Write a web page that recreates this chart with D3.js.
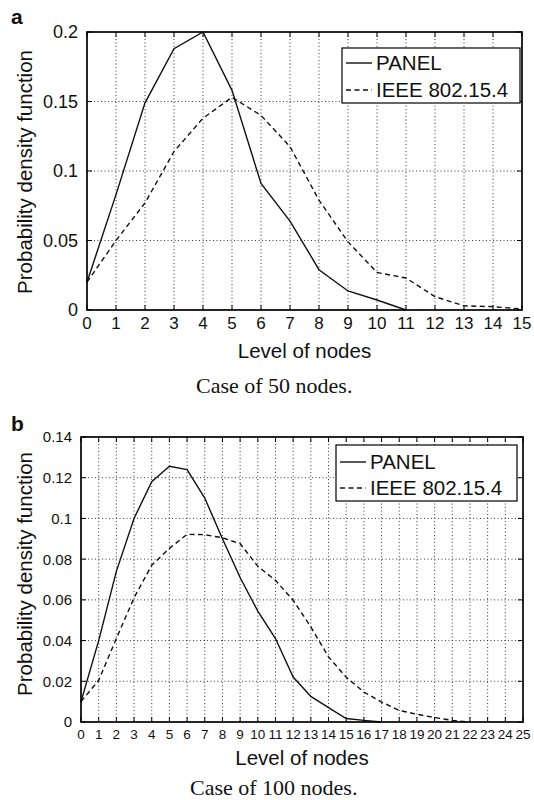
<!DOCTYPE html>
<html>
<head>
<meta charset="utf-8">
<script src="https://cdn.jsdelivr.net/npm/d3@7"></script>
<style>
  body { margin: 0; background: #fff; }
  svg { display: block; }
  text { fill: #111; }
</style>
</head>
<body>
<div id="chart-area"></div>
<script>
// panel a: 50 nodes
const levelsA = d3.range(0, 16);
const panelA = [0.02, 0.083, 0.149, 0.188, 0.2, 0.158, 0.091, 0.064, 0.029, 0.0137, 0.0072, 0];
const ieeeA = [0.02, 0.05, 0.077, 0.114, 0.138, 0.153, 0.140, 0.1175, 0.079, 0.049, 0.027, 0.023, 0.0096, 0.003, 0.0024, 0.0007];
const yTicksA = [0, 0.05, 0.1, 0.15, 0.2];

// panel b: 100 nodes
const levelsB = d3.range(0, 26);
const panelB = [0.01, 0.04, 0.074, 0.1, 0.118, 0.1256, 0.124, 0.11, 0.09, 0.071, 0.0545, 0.041, 0.0221, 0.0126, 0.0071, 0.0017, 0.0008, 0];
const ieeeB = [0.01, 0.0205, 0.041, 0.061, 0.077, 0.0853, 0.0922, 0.092, 0.0905, 0.0876, 0.0765, 0.0696, 0.0598, 0.0467, 0.032, 0.022, 0.0147, 0.0098, 0.0057, 0.0038, 0.0022, 0.0008, 0];
const yTicksB = [0, 0.02, 0.04, 0.06, 0.08, 0.1, 0.12, 0.14];

const seriesNames = ["PANEL", "IEEE 802.15.4"];

const svg = d3.select("#chart-area")
  .append("svg")
  .attr("width", 534)
  .attr("height", 800);

function drawPanel(o) {
  const x = d3.scaleLinear().domain([0, o.xMax]).range([o.l, o.r]);
  const y = d3.scaleLinear().domain([0, o.yMax]).range([o.b, o.t]);
  const g = svg.append("g");

  // dotted grid
  g.selectAll(".gx").data(o.levels.slice(1, -1)).enter().append("line")
    .attr("x1", d => x(d)).attr("x2", d => x(d))
    .attr("y1", o.t).attr("y2", o.b)
    .attr("stroke", "#222").attr("stroke-width", 0.9)
    .attr("stroke-dasharray", "1,2.5");
  g.selectAll(".gy").data(o.yTicks.slice(1, -1)).enter().append("line")
    .attr("x1", o.l).attr("x2", o.r)
    .attr("y1", d => y(d)).attr("y2", d => y(d))
    .attr("stroke", "#222").attr("stroke-width", 0.9)
    .attr("stroke-dasharray", "1,2.5");

  // inner ticks on all four sides
  const tk = 5;
  o.levels.forEach(d => {
    g.append("line").attr("x1", x(d)).attr("x2", x(d)).attr("y1", o.b).attr("y2", o.b - tk).attr("stroke", "#000");
    g.append("line").attr("x1", x(d)).attr("x2", x(d)).attr("y1", o.t).attr("y2", o.t + tk).attr("stroke", "#000");
  });
  o.yTicks.forEach(d => {
    g.append("line").attr("x1", o.l).attr("x2", o.l + tk).attr("y1", y(d)).attr("y2", y(d)).attr("stroke", "#000");
    g.append("line").attr("x1", o.r).attr("x2", o.r - tk).attr("y1", y(d)).attr("y2", y(d)).attr("stroke", "#000");
  });

  // tick labels
  g.selectAll(".xl").data(o.levels).enter().append("text")
    .attr("x", d => x(d)).attr("y", o.b + o.xLabOff)
    .attr("text-anchor", "middle")
    .attr("font-family", "Liberation Sans, Arial, sans-serif")
    .attr("font-size", o.xFont + "px")
    .text(d => d);
  g.selectAll(".yl").data(o.yTicks).enter().append("text")
    .attr("x", o.l - 9).attr("y", d => y(d))
    .attr("dy", "0.36em")
    .attr("text-anchor", "end")
    .attr("font-family", "Liberation Sans, Arial, sans-serif")
    .attr("font-size", o.yFont + "px")
    .text(d => d);

  // lines
  const line = d3.line().x((d, i) => x(i)).y(d => y(d));
  g.append("path").datum(o.panel)
    .attr("d", line).attr("fill", "none")
    .attr("stroke", "#111").attr("stroke-width", 1.4);
  g.append("path").datum(o.ieee)
    .attr("d", line).attr("fill", "none")
    .attr("stroke", "#111").attr("stroke-width", 1.4)
    .attr("stroke-dasharray", "5,3.5");

  // box
  g.append("rect")
    .attr("x", o.l).attr("y", o.t)
    .attr("width", o.r - o.l).attr("height", o.b - o.t)
    .attr("fill", "none").attr("stroke", "#000").attr("stroke-width", 1.7);

  // legend
  const lg = o.legend;
  g.append("rect")
    .attr("x", lg.x).attr("y", lg.y).attr("width", lg.w).attr("height", lg.h)
    .attr("fill", "#fff").attr("stroke", "#000").attr("stroke-width", 1.2);
  seriesNames.forEach((name, i) => {
    const cy = lg.y + lg.row0 + i * lg.rowH;
    g.append("line")
      .attr("x1", lg.x + 4).attr("x2", lg.x + 30)
      .attr("y1", cy).attr("y2", cy)
      .attr("stroke", "#111").attr("stroke-width", 1.4)
      .attr("stroke-dasharray", i ? "5,3.5" : null);
    g.append("text")
      .attr("x", lg.x + 34).attr("y", cy).attr("dy", "0.36em")
      .attr("font-family", "Liberation Sans, Arial, sans-serif")
      .attr("font-size", "20.5px")
      .text(name);
  });

  // axis titles
  g.append("text")
    .attr("x", (o.l + o.r) / 2).attr("y", o.xTitleY)
    .attr("text-anchor", "middle")
    .attr("font-family", "Liberation Sans, Arial, sans-serif")
    .attr("font-size", "20.5px")
    .text("Level of nodes");
  g.append("text")
    .attr("transform", "translate(32," + o.yTitleC + ") rotate(-90)")
    .attr("text-anchor", "middle")
    .attr("font-family", "Liberation Sans, Arial, sans-serif")
    .attr("font-size", "20.5px")
    .text("Probability density function");

  // caption and panel letter
  g.append("text")
    .attr("x", o.captionX).attr("y", o.captionY)
    .attr("font-family", "Liberation Serif, Times New Roman, serif")
    .attr("font-size", "22px")
    .text(o.caption);
  g.append("text")
    .attr("x", 11).attr("y", o.letterY)
    .attr("font-family", "Liberation Sans, Arial, sans-serif")
    .attr("font-weight", "bold")
    .attr("font-size", "21px")
    .text(o.letter);
}

drawPanel({
  levels: levelsA, xMax: 15, yMax: 0.2, yTicks: yTicksA,
  panel: panelA, ieee: ieeeA,
  l: 87, r: 522, t: 32, b: 310,
  xFont: 17, yFont: 18, xLabOff: 19,
  xTitleY: 358, yTitleC: 172, caption: "Case of 50 nodes.", captionX: 196, captionY: 393,
  letter: "a", letterY: 24,
  legend: { x: 342, y: 48, w: 178, h: 55, row0: 15, rowH: 27 }
});

drawPanel({
  levels: levelsB, xMax: 25, yMax: 0.14, yTicks: yTicksB,
  panel: panelB, ieee: ieeeB,
  l: 81, r: 523, t: 437, b: 722,
  xFont: 13.5, yFont: 15, xLabOff: 17,
  xTitleY: 765, yTitleC: 574, caption: "Case of 100 nodes.", captionX: 190, captionY: 795,
  letter: "b", letterY: 431,
  legend: { x: 336, y: 445, w: 181, h: 56, row0: 17, rowH: 26 }
});
</script>
</body>
</html>
